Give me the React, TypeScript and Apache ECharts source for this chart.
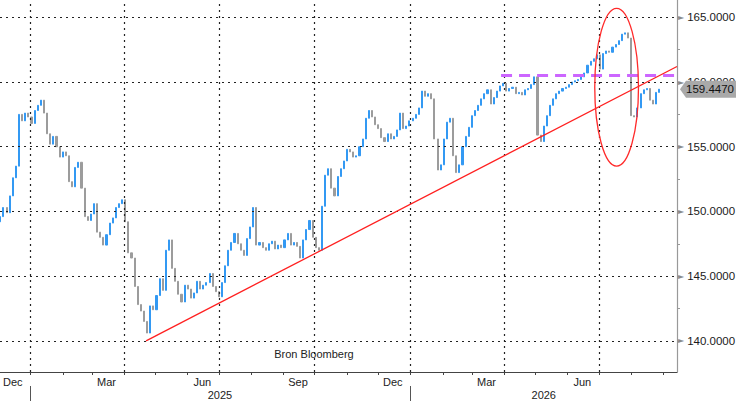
import React, { useEffect, useRef } from "react";
import * as echarts from "echarts";

// ---- data ----
const FIRST_DAY = [2024, 11, 3]; // first bar (Dec 3 2024)
const STEP_DAYS = 3;
const FIRST_OPEN = 149.2;
const closes = [
  149.6, 150.3, 149.9, 151.2, 152.6, 153.5, 157.5, 157.0, 157.6, 157.3,
  156.8, 157.8, 158.2, 158.6, 157.6, 156.0, 155.2, 155.8, 155.0, 154.2,
  154.6, 154.3, 152.3, 151.9, 153.4, 153.8, 151.8, 149.6, 149.3, 149.8,
  150.6, 148.4, 148.0, 147.4, 148.2, 149.1, 149.5, 150.3, 150.6, 150.9,
  149.2, 146.8, 146.4, 144.2, 142.8, 142.3, 141.5, 140.6, 142.7, 142.4,
  143.5, 144.8, 143.9, 147.0, 147.8, 145.6, 144.6, 143.6, 143.0, 144.3,
  144.0, 143.3, 143.7, 144.6, 144.0, 144.3, 144.5, 145.2, 144.2, 143.8,
  143.4, 144.5, 145.8, 147.0, 147.6, 148.3, 147.5, 147.0, 146.6, 147.9,
  148.8, 150.3, 147.4, 147.6, 147.2, 147.0, 147.5, 147.7, 147.1, 147.4,
  147.2, 147.8, 148.3, 147.4, 147.6, 147.3, 146.4, 147.8, 148.6, 149.3,
  148.0, 147.2, 147.0, 150.4, 152.8, 153.3, 151.8, 151.2, 152.7, 153.3,
  153.9, 154.8, 154.6, 154.2, 154.3, 155.0, 155.6, 157.2, 157.8, 157.3,
  156.7, 156.4, 155.7, 155.4, 156.0, 155.6, 155.8, 156.3, 157.6, 156.4,
  156.6, 157.0, 157.2, 157.5, 158.0, 159.3, 158.9, 159.1, 158.7, 155.6,
  153.2, 153.6, 155.6, 156.9, 157.2, 154.3, 153.0, 153.6, 155.0, 155.8,
  156.5, 157.4, 157.8, 158.2, 158.7, 159.1, 159.4, 158.3, 158.8, 159.3,
  159.7, 159.9, 159.3, 159.5, 159.6, 159.1, 159.2, 159.0, 159.4, 159.5,
  159.8, 160.4, 155.9, 155.4, 156.6, 157.4, 158.2, 158.7, 159.1, 159.3,
  159.5, 159.6, 159.8, 160.0, 160.1, 160.2, 160.4, 160.7, 161.3, 161.6,
  161.8, 162.1, 161.0, 162.2, 162.4, 162.3, 162.7, 162.9, 163.2, 163.7,
  163.8, 163.4, 157.4, 157.3, 158.0, 159.1, 159.4, 159.5, 158.6, 158.3,
  159.2, 159.447,
];

const Y_TICKS = [140, 145, 150, 155, 160, 165];
const Y_MINOR = [140, 142.5, 145, 147.5, 150, 152.5, 155, 157.5, 160, 162.5, 165];
const MONTH_NAMES = ["Jan", "Feb", "Mar", "Apr", "May", "Jun", "Jul", "Aug", "Sep", "Oct", "Nov", "Dec"];
const MONTH_LABELS = [[2024, 11], [2025, 2], [2025, 5], [2025, 8], [2025, 11], [2026, 2], [2026, 5]];
const QUARTER_LINES = [[2025, 0], [2025, 3], [2025, 6], [2025, 9], [2026, 0], [2026, 3], [2026, 6]];
const YEAR_LABELS = [[2025, 6, 2], [2026, 4, 9]];
const YEAR_SEPARATORS = [[2025, 0, 1], [2026, 0, 1]];
const TREND = { from: [2025, 3, 22], fromValue: 140.0, toValue: 161.2 };
const RESISTANCE = { from: [2026, 2, 29], value: 160.5 };
const ELLIPSE = { center: [2026, 6, 18], value: 159.6, halfDays: 21, halfValue: 6.1 };

const ts = (y: number, m: number, d = 1, h = 0) => new Date(y, m, d, h).getTime();
const X_MIN = ts(2024, 11, 2, 17);
const X_MAX = ts(2026, 8, 14);
const Y_MIN = 137.59;
const Y_MAX = 166.34;

const BLUE = "#3399f3";
const GRAY = "#9c9c9c";

export default function App() {
  const ref = useRef<HTMLDivElement>(null);
  useEffect(() => {
    if (!ref.current) return;
    const chart = echarts.init(ref.current, undefined, { renderer: "svg" });

    const dates = closes.map((_, i) => new Date(FIRST_DAY[0], FIRST_DAY[1], FIRST_DAY[2] + i * STEP_DAYS).getTime());
    const ohlc = closes.map((c, i) => {
      const o = i === 0 ? FIRST_OPEN : closes[i - 1];
      return [dates[i], o, c, Math.min(o, c), Math.max(o, c)];
    });

    const monthTicks: number[] = [];
    for (let k = 0; k < 21; k++) monthTicks.push(ts(2025, k, 1));

    const font = "Liberation Sans";
    const option: any = {
      animation: false,
      backgroundColor: "#ffffff",
      grid: { left: 0, right: 59, top: 0, bottom: 29, containLabel: false, outerBoundsMode: "none" },
      xAxis: [
        {
          type: "value",
          min: X_MIN,
          max: X_MAX,
          position: "bottom",
          axisLine: { show: true, onZero: false, lineStyle: { color: "#444", width: 1 } },
          axisTick: { show: true, customValues: monthTicks, length: 3, lineStyle: { color: "#444" } },
          axisLabel: {
            customValues: MONTH_LABELS.map(([y, m]) => ts(y, m, 15)),
            formatter: (v: number) => MONTH_NAMES[new Date(v).getMonth()],
            color: "#222",
            fontSize: 11,
            fontFamily: font,
            margin: 4,
          },
          splitLine: { show: false },
        },
        {
          type: "value",
          min: X_MIN,
          max: X_MAX,
          position: "bottom",
          offset: 14,
          axisLine: { show: false, onZero: false },
          axisTick: { show: true, customValues: YEAR_SEPARATORS.map(([y, m, d]) => ts(y, m, d)), length: 15, lineStyle: { color: "#555" } },
          axisLabel: {
            customValues: YEAR_LABELS.map(([y, m, d]) => ts(y, m, d)),
            formatter: (v: number) => String(new Date(v).getFullYear()),
            color: "#222",
            fontSize: 11,
            fontFamily: font,
            margin: 3,
          },
          splitLine: { show: false },
        },
      ],
      yAxis: {
        type: "value",
        position: "right",
        min: Y_MIN,
        max: Y_MAX,
        axisLine: { show: true, lineStyle: { color: "#999", width: 1.2 } },
        axisTick: { show: true, customValues: Y_MINOR, length: 3, lineStyle: { color: "#999" } },
        axisLabel: {
          customValues: Y_TICKS,
          margin: 1,
          formatter: (v: number) => `{a|►}{b|${v.toFixed(4)}}`,
          rich: {
            a: { color: "#8a8a8a", fontSize: 8, fontFamily: "DejaVu Sans", padding: [0, 3, 0, 0] },
            b: { color: "#1a1a1a", fontSize: 11.5, fontFamily: font },
          },
        },
        splitLine: { show: false },
      },
      series: [
        {
          type: "line",
          data: [],
          silent: true,
          z: 1,
          markLine: {
            silent: true,
            symbol: "none",
            label: { show: false },
            animation: false,
            lineStyle: { type: [2, 4], color: "#222", width: 1.2 },
            emphasis: { disabled: true },
            data: [
              ...QUARTER_LINES.map(([y, m]) => ({ xAxis: ts(y, m, 1) })),
              ...Y_TICKS.map((v) => ({ yAxis: v })),
            ],
          },
        },
        {
          type: "candlestick",
          data: ohlc,
          encode: { x: 0, y: [1, 2, 3, 4] },
          barWidth: 1.6,
          silent: true,
          z: 3,
          itemStyle: { color: BLUE, color0: GRAY, borderColor: BLUE, borderColor0: GRAY, borderWidth: 1 },
          markLine: {
            silent: true,
            symbol: "none",
            label: { show: false },
            animation: false,
            emphasis: { disabled: true },
            data: [
              [
                { coord: [ts(TREND.from[0], TREND.from[1], TREND.from[2]), TREND.fromValue], lineStyle: { color: "#ff2020", width: 1.3, type: "solid" } },
                { coord: [X_MAX, TREND.toValue] },
              ],
              [
                { coord: [ts(RESISTANCE.from[0], RESISTANCE.from[1], RESISTANCE.from[2]), RESISTANCE.value], lineStyle: { color: "#cc66ff", width: 3, type: [11, 7] } },
                { coord: [X_MAX, RESISTANCE.value] },
              ],
            ],
          },
        },
      ],
    };
    chart.setOption(option);

    const finder = { xAxisIndex: 0, yAxisIndex: 0 };
    const cTs = ts(ELLIPSE.center[0], ELLIPSE.center[1], ELLIPSE.center[2]);
    const c = chart.convertToPixel(finder, [cTs, ELLIPSE.value]) as number[];
    const e1 = chart.convertToPixel(finder, [cTs + ELLIPSE.halfDays * 86400000, ELLIPSE.value - ELLIPSE.halfValue]) as number[];
    const last = closes[closes.length - 1];
    const p = chart.convertToPixel(finder, [X_MAX, last]) as number[];
    const xr = p[0];
    const py = p[1];
    const W = chart.getWidth();

    chart.setOption({
      graphic: [
        {
          type: "ellipse",
          silent: true,
          z: 100,
          shape: { cx: c[0], cy: c[1], rx: Math.abs(e1[0] - c[0]), ry: Math.abs(e1[1] - c[1]) },
          style: { fill: "none", stroke: "#ff2a2a", lineWidth: 1.3 },
        },
        {
          type: "polygon",
          silent: true,
          z: 100,
          shape: { points: [[xr + 3, py], [xr + 9, py - 8.5], [W, py - 8.5], [W, py + 8.5], [xr + 9, py + 8.5]] },
          style: { fill: "#a9a9a9" },
        },
        {
          type: "text",
          silent: true,
          z: 101,
          x: xr + 9,
          y: py,
          style: { text: last.toFixed(4), fill: "#111", fontSize: 11.5, fontFamily: font, verticalAlign: "middle", textVerticalAlign: "middle" },
        },
        {
          type: "text",
          silent: true,
          z: 101,
          x: 314,
          y: 354,
          style: { text: "Bron Bloomberg", fill: "#222", fontSize: 11, fontFamily: font, align: "center", textAlign: "center", verticalAlign: "middle", textVerticalAlign: "middle" },
        },
      ],
    });

    return () => chart.dispose();
  }, []);

  return <div ref={ref} style={{ position: "fixed", left: 0, top: 0, width: 736, height: 401, background: "#fff" }} />;
}
